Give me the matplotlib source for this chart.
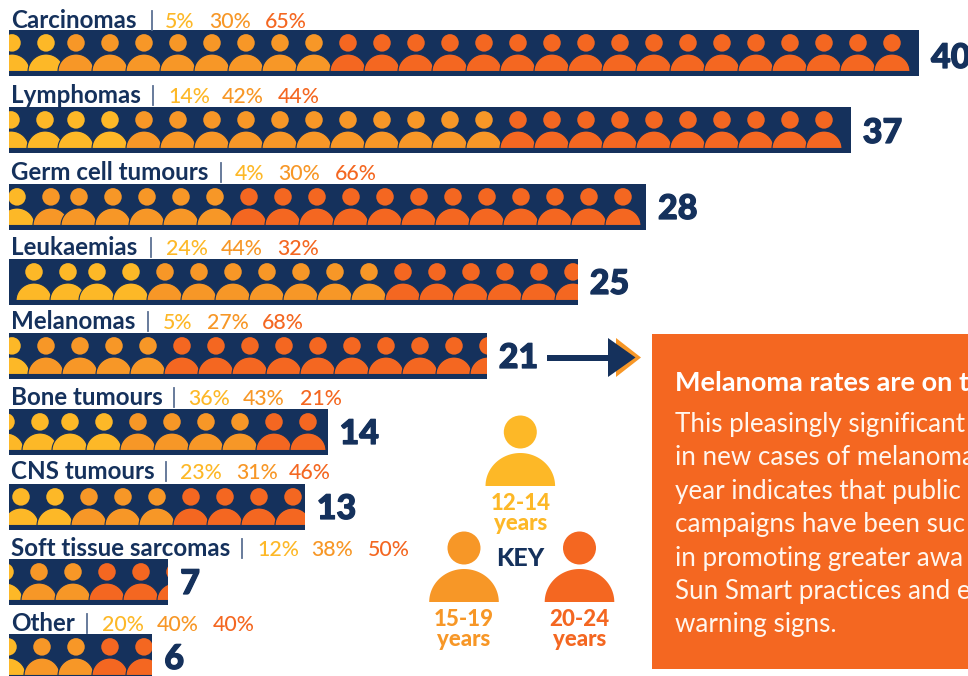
import numpy as np
import matplotlib
matplotlib.use("Agg")
import matplotlib.pyplot as plt
import matplotlib.patheffects as pe
from matplotlib.patches import Ellipse, Polygon, Rectangle

plt.rcParams['font.family'] = ['Lato', 'DejaVu Sans']

# datos
cancer_types = ["Carcinomas", "Lymphomas", "Germ cell tumours", "Leukaemias", "Melanomas",
                "Bone tumours", "CNS tumours", "Soft tissue sarcomas", "Other"]
cases = [40, 37, 28, 25, 21, 14, 13, 7, 6]
# the last bar is drawn a bit longer than its 6 in the original
bar_cases = [40, 37, 28, 25, 21, 14, 13, 7, 6.3]
pct_12_14 = [5, 14, 4, 24, 5, 36, 23, 12, 20]
pct_15_19 = [30, 42, 30, 44, 27, 43, 31, 38, 40]
pct_20_24 = [65, 44, 66, 32, 68, 21, 46, 50, 40]
# people icons per age group in every bar
icons_12_14 = [2, 4, 1, 4, 1, 4, 3, 1, 1]
icons_15_19 = [8, 11, 6, 7, 4, 4, 3, 2, 2]
icons_20_24 = [17, 10, 12, 6, 10, 2, 4, 3, 2]
key_labels = ["12-14\nyears", "15-19\nyears", "20-24\nyears"]
box_title = "Melanoma rates are on t"
box_lines = ["This pleasingly significant", "in new cases of melanoma", "year indicates that public",
             "campaigns have been suc", "in promoting greater awa", "Sun Smart practices and e",
             "warning signs."]

# colores
NAVY = "#15315C"
YELLOW = "#FDB827"
ORANGE = "#F79727"
RED = "#F46721"
age_colors = [YELLOW, ORANGE, RED]

# layout in pixels of the 968x676 picture
px_per_case = 22.75
bar_left = 9
bar_h = 46
bar_top = [30, 107, 184, 259, 333, 409, 484, 559, 634]
label_base = [28, 103, 180, 255, 329, 405, 479, 556, 631]
value_dy = [38, 36, 35, 35, 35, 35, 35, 35, 35]
sep_x = [152, 153, 221, 151, 148, 174, 166, 242, 87]
pct_x = [(165, 209, 265), (168, 222, 278), (235, 278, 335), (166, 221, 277), (163, 207, 262),
         (188, 243, 300), (180, 236, 289), (257, 311, 368), (102, 157, 213)]
first_head = [8, 8, 11, 29, 12, 2, -13, 5, 8]
first_shift = [4, 3, 6, 5, 0, 4, 0, 0, 0]
icon_step = 34.0


def person(ax, x, base, scale, half_w, color, clip=None, edge="none"):
    # body is a half ellipse, the head a circle on top
    t = np.linspace(0, np.pi, 60)
    h = 33 * scale
    body = Polygon(np.column_stack((x + half_w * np.cos(t), base - h * np.sin(t))), closed=True,
                   facecolor=color, edgecolor=edge, linewidth=0.8, zorder=3)
    head = Ellipse((x, base - 54 * scale), 33 * scale, 33 * scale, facecolor=color,
                   edgecolor="none", zorder=3)
    ax.add_patch(body)
    ax.add_patch(head)
    if clip is not None:
        body.set_clip_path(clip)
        head.set_clip_path(clip)


fig = plt.figure(figsize=(9.68, 6.76), dpi=100)
ax = fig.add_axes([0, 0, 1, 1])
ax.set_xlim(0, 968)
ax.set_ylim(676, 0)
ax.axis("off")

bars = ax.barh(bar_top, [c * px_per_case for c in bar_cases], height=bar_h, left=bar_left,
               align="edge", color=NAVY, zorder=2)

for i, bar in enumerate(bars):
    groups = [icons_12_14[i], icons_15_19[i], icons_20_24[i]]
    colors = np.repeat(age_colors, groups)
    base = bar_top[i] + 41.5
    for j, c in enumerate(colors):
        x = first_head[i] + j * icon_step
        if j < 2:
            x += first_shift[i]
        person(ax, x, base, 0.53, 18, c, clip=bar, edge=NAVY)

    end = bar_left + bar_cases[i] * px_per_case
    val = ax.text(end + 12, bar_top[i] + value_dy[i], str(cases[i]), color=NAVY, fontsize=24.5,
                  fontweight="black", va="baseline", ha="left", zorder=4)
    val.set_path_effects([pe.withStroke(linewidth=0.9, foreground=NAVY)])

    y = label_base[i]
    ax.text(11, y, cancer_types[i], color=NAVY, fontsize=17.4, fontweight="bold", va="baseline", zorder=4)
    ax.plot([sep_x[i], sep_x[i]], [y - 17, y + 2], color="#5C7193", lw=1.3, zorder=4)
    pcts = [pct_12_14[i], pct_15_19[i], pct_20_24[i]]
    for p, px, c in zip(pcts, pct_x[i], age_colors):
        ax.text(px, y, f"{p}%", color=c, fontsize=15.3, fontweight="medium", va="baseline", zorder=4)

# key
key_x = [520.3, 464, 579.5]
key_base = [486, 602, 602]
key_text_y = [503.5, 619, 619]
for x, b, ty, lab, c in zip(key_x, key_base, key_text_y, key_labels, age_colors):
    person(ax, x, b, 1.0, 34.8, c)
    l1, l2 = lab.split("\n")
    ax.text(x, ty, l1, color=c, fontsize=16, fontweight="black", ha="center", va="center")
    ax.text(x, ty + 20, l2, color=c, fontsize=16, fontweight="black", ha="center", va="center")
ax.text(520.5, 559, "KEY", color=NAVY, fontsize=18, fontweight="black", ha="center", va="center")

# arrow
ax.add_patch(Polygon([(616, 338), (641, 357.5), (616, 377)], closed=True, facecolor=ORANGE, edgecolor="none"))
ax.add_patch(Polygon([(608, 338), (635.5, 357.5), (608, 377)], closed=True, facecolor=NAVY, edgecolor="none", zorder=3))
ax.add_patch(Rectangle((547, 354.5), 62, 6, facecolor=NAVY, edgecolor="none", zorder=3))

# orange panel
ax.add_patch(Rectangle((652, 334), 320, 335, facecolor=RED, edgecolor="none"))
ax.text(675, 391, box_title, color="white", fontsize=19.5, fontweight="bold", va="baseline", clip_on=True)
for k, line in enumerate(box_lines):
    ax.text(675, 432 + k * 33.4, line, color="#FFF6EE", fontsize=18.7, va="baseline", clip_on=True)

fig.savefig("out.png", dpi=100)
